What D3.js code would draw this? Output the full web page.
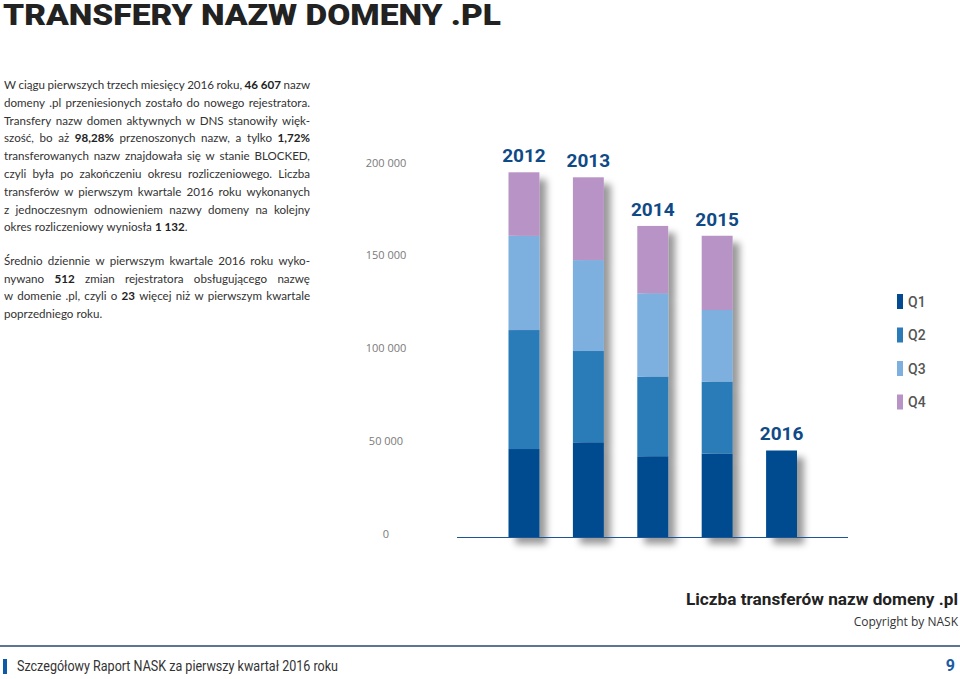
<!DOCTYPE html>
<html><head><meta charset="utf-8">
<script src="https://cdn.jsdelivr.net/npm/d3@7/dist/d3.min.js"></script>
<style>
html,body{margin:0;padding:0;background:#fff;}
svg{display:block;}
</style></head>
<body>
<svg id="c" width="960" height="679"></svg>
<script>
// ---- data ----
const years = ["2012", "2013", "2014", "2015", "2016"];
const quarters = ["Q1", "Q2", "Q3", "Q4"];
const q1 = [47400, 51000, 43500, 44900, 46607];
const q2 = [64100, 49200, 42900, 38800, 0];
const q3 = [50800, 49000, 44900, 38600, 0];
const q4 = [34200, 44600, 36300, 40000, 0];
const tickValues = [0, 50000, 100000, 150000, 200000];
const tickLabels = ["0", "50 000", "100 000", "150 000", "200 000"];
const colors = ["#034b90", "#2b7bb9", "#7db0df", "#b894c6"];

const title = "TRANSFERY NAZW DOMENY .PL";
const chartTitle = "Liczba transferów nazw domeny .pl";
const copyright = "Copyright by NASK";
const footer = "Szczegółowy Raport NASK za pierwszy kwartał 2016 roku";
const pageNo = "9";
const para1 = [
  "W ciągu pierwszych trzech miesięcy 2016 roku, *46~607* nazw",
  "domeny .pl przeniesionych zostało do nowego rejestratora.",
  "Transfery nazw domen aktywnych w DNS stanowiły więk-",
  "szość, bo aż *98,28%* przenoszonych nazw, a tylko *1,72%*",
  "transferowanych nazw znajdowała się w stanie BLOCKED,",
  "czyli była po zakończeniu okresu rozliczeniowego. Liczba",
  "transferów w pierwszym kwartale 2016 roku wykonanych",
  "z jednoczesnym odnowieniem nazwy domeny na kolejny",
  "okres rozliczeniowy wyniosła *1~132*."
];
const para2 = [
  "Średnio dziennie w pierwszym kwartale 2016 roku wyko-",
  "nywano *512* zmian rejestratora obsługującego nazwę",
  "w domenie .pl, czyli o *23* więcej niż w pierwszym kwartale",
  "poprzedniego roku."
];

const svg = d3.select("#c");
const defs = svg.append("defs");
const f = defs.append("filter").attr("id", "sh").attr("x", "-50%").attr("y", "-20%").attr("width", "220%").attr("height", "150%");
f.append("feDropShadow").attr("dx", 7).attr("dy", 7).attr("stdDeviation", 3.5).attr("flood-color", "#000").attr("flood-opacity", 0.4);

// ---- title ----
svg.append("text").attr("x", 3).attr("y", 25)
  .attr("font-family", "Roboto, 'DejaVu Sans', sans-serif").attr("font-weight", 900)
  .attr("font-size", 29).attr("fill", "#222")
  .attr("textLength", 498).attr("lengthAdjust", "spacingAndGlyphs")
  .text(title);

// ---- justified paragraphs ----
function drawPara(lines, y0, lh) {
  const W = 306, x0 = 4;
  lines.forEach((line, li) => {
    const words = line.split(" ");
    const g = svg.append("g");
    const nodes = words.map(w => {
      const t = g.append("text").attr("y", y0 + li * lh)
        .attr("font-family", "Lato, 'Open Sans', sans-serif").attr("font-size", 11.6).attr("fill", "#333");
      const runs = w.split("*");
      runs.forEach((r, i) => {
        if (!r) return;
        t.append("tspan").attr("font-weight", i % 2 ? 700 : 400).attr("fill", i % 2 ? "#222" : "#333").text(r.replace(/~/g, " "));
      });
      return t;
    });
    const widths = nodes.map(n => n.node().getComputedTextLength());
    const sum = d3.sum(widths);
    const last = li === lines.length - 1;
    const gap = last ? 3.1 : (W - sum) / (words.length - 1);
    let x = x0;
    nodes.forEach((n, i) => { n.attr("x", x); x += widths[i] + gap; });
  });
}
drawPara(para1, 89, 17.8);
drawPara(para2, 265, 17.7);

// ---- chart ----
const y = d3.scaleLinear().domain([0, 200000]).range([537, 165.8]);
const x = d3.scaleBand().domain(years).range([476.3, 829.2]).paddingInner(0.52).paddingOuter(0.5);

const rows = years.map((yr, i) => ({ year: yr, Q1: q1[i], Q2: q2[i], Q3: q3[i], Q4: q4[i] }));
const stacked = d3.stack().keys(quarters)(rows);

// tick labels
svg.append("g").selectAll("text").data(tickValues).join("text")
  .attr("x", 386).attr("y", d => y(d) - 3).attr("dy", "0.35em")
  .attr("text-anchor", "middle").attr("font-family", "'Open Sans', sans-serif")
  .attr("font-size", 11).attr("fill", "#7a7a7a")
  .text((d, i) => tickLabels[i]);

// bars (each bar with a shadow)
const barG = svg.append("g");
years.forEach((yr, i) => {
  const g = barG.append("g").attr("filter", "url(#sh)");
  stacked.forEach((s, k) => {
    const d = s[i];
    if (d[1] - d[0] <= 0) return;
    g.append("rect").attr("x", x(yr)).attr("width", x.bandwidth())
      .attr("y", y(d[1])).attr("height", y(d[0]) - y(d[1]))
      .attr("fill", colors[k]);
  });
});

// axis baseline
svg.append("line").attr("x1", 457).attr("x2", 848).attr("y1", y(0) + 0.5).attr("y2", y(0) + 0.5)
  .attr("stroke", "#1f5590").attr("stroke-width", 1.2);

// year labels
svg.append("g").selectAll("text").data(rows).join("text")
  .attr("x", d => x(d.year) + x.bandwidth() / 2)
  .attr("y", d => y(d.Q1 + d.Q2 + d.Q3 + d.Q4) - 10)
  .attr("text-anchor", "middle").attr("font-family", "Roboto, sans-serif").attr("font-weight", 700)
  .attr("font-size", 19).attr("fill", "#0f4a86")
  .text(d => d.year);

// legend
const lg = svg.append("g");
quarters.forEach((q, k) => {
  const yy = 294 + k * 33.5;
  lg.append("rect").attr("x", 897).attr("y", yy).attr("width", 6).attr("height", 15).attr("fill", colors[k]);
  lg.append("text").attr("x", 908).attr("y", yy + 7.5).attr("dy", "0.36em")
    .attr("font-family", "Roboto, sans-serif").attr("font-weight", 500).attr("font-size", 14).attr("fill", "#555")
    .text(q);
});

// chart title and copyright
svg.append("text").attr("x", 958).attr("y", 605).attr("text-anchor", "end")
  .attr("font-family", "Roboto, sans-serif").attr("font-weight", 700).attr("font-size", 17).attr("fill", "#222")
  .attr("textLength", 272).attr("lengthAdjust", "spacingAndGlyphs")
  .text(chartTitle);
svg.append("text").attr("x", 958).attr("y", 626).attr("text-anchor", "end")
  .attr("font-family", "'Open Sans', sans-serif").attr("font-size", 12).attr("fill", "#333")
  .text(copyright);

// footer
svg.append("line").attr("x1", 0).attr("x2", 960).attr("y1", 646).attr("y2", 646)
  .attr("stroke", "#24496f").attr("stroke-width", 1.5);
svg.append("rect").attr("x", 3).attr("y", 659).attr("width", 4).attr("height", 15).attr("fill", "#0d5aa7");
svg.append("text").attr("x", 17).attr("y", 671)
  .attr("font-family", "'Liberation Sans Narrow', 'Roboto', sans-serif").attr("font-size", 14).attr("fill", "#333")
  .attr("textLength", 321).attr("lengthAdjust", "spacingAndGlyphs")
  .text(footer);
svg.append("text").attr("x", 955).attr("y", 671).attr("text-anchor", "end")
  .attr("font-family", "Roboto, sans-serif").attr("font-weight", 700).attr("font-size", 16).attr("fill", "#1a5ca5")
  .text(pageNo);
</script>
</body></html>
